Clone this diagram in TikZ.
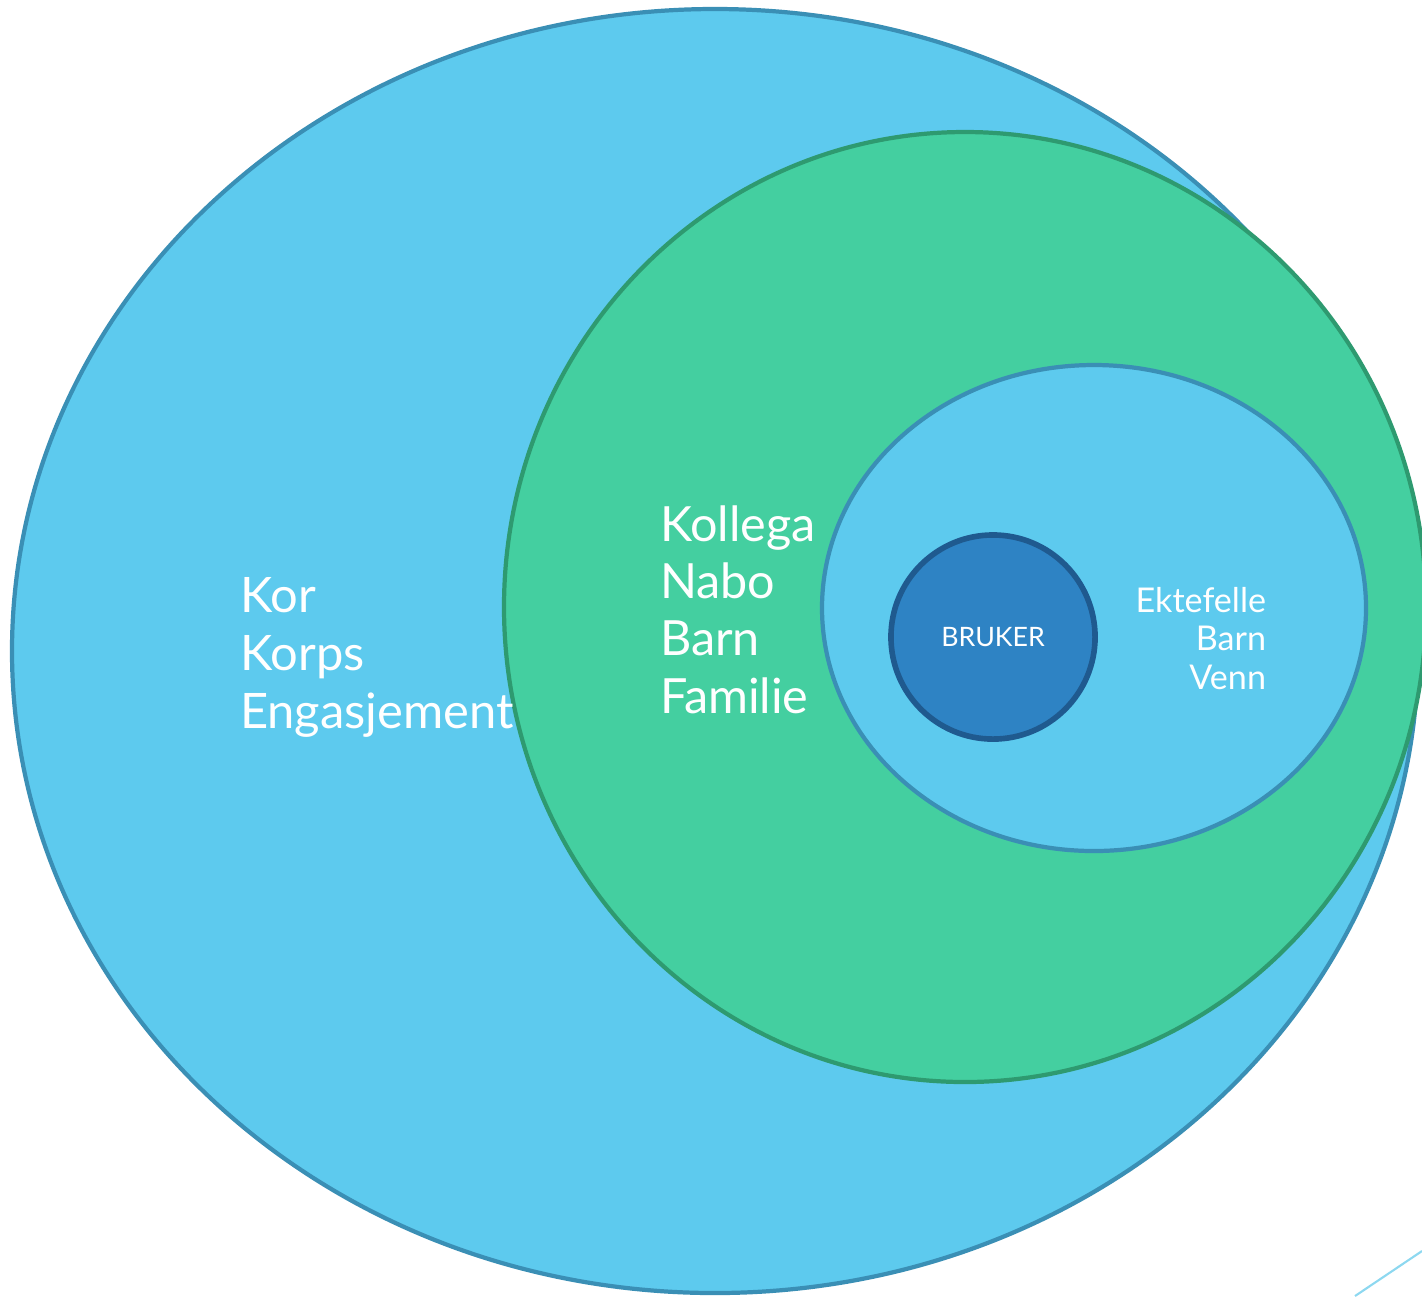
\documentclass[tikz,border=0pt]{standalone}
\usepackage{fontspec}
\setmainfont{Lato}
\definecolor{skyfill}{HTML}{5DCAEE}
\definecolor{skyline}{HTML}{3A8FB5}
\definecolor{greenfill}{HTML}{44CFA0}
\definecolor{greenline}{HTML}{2E9A70}
\definecolor{corefill}{HTML}{2E83C4}
\definecolor{coreline}{HTML}{1F5A8F}
\definecolor{deco}{HTML}{8DD8F0}
\begin{document}
\begin{tikzpicture}[x=0.01cm,y=-0.01cm,
  ring/.style={line width=1.2pt},
  lbl/.style={text=white, inner sep=0pt, outer sep=0pt}]
\useasboundingbox (0,0) rectangle (1422,1296);
% outer ellipse
\draw[ring, fill=skyfill, draw=skyline] (715,651) ellipse [x radius=703, y radius=642];
% green circle
\draw[ring, fill=greenfill, draw=greenline] (965,607) ellipse [x radius=461, y radius=475];
% inner ellipse
\draw[ring, fill=skyfill, draw=skyline] (1094,608) ellipse [x radius=272, y radius=243];
% core
\node[circle, minimum size=2.04cm, inner sep=0pt, fill=corefill, draw=coreline, line width=1.6pt, text=white, font=\fontsize{7.6pt}{9pt}\selectfont] (core) at (993,637) {BRUKER};
% labels
\node[lbl, anchor=base west, align=left, font=\fontsize{13.9pt}{16.4pt}\selectfont] (outer) at (240,728) {Kor\\Korps\\Engasjement};
\node[lbl, anchor=base west, align=left, font=\fontsize{13.8pt}{16.3pt}\selectfont] (middle) at (660,713) {Kollega\\Nabo\\Barn\\Familie};
\node[lbl, anchor=base east, align=right, font=\fontsize{9.7pt}{10.9pt}\selectfont] (inner) at (1266,689) {Ektefelle\\Barn\\Venn};
% decoration line
\coordinate (d1) at (1355,1296);
\coordinate (d2) at (1422,1251);
\draw[deco, line width=0.6pt] (d1) -- (d2);
\end{tikzpicture}
\end{document}
